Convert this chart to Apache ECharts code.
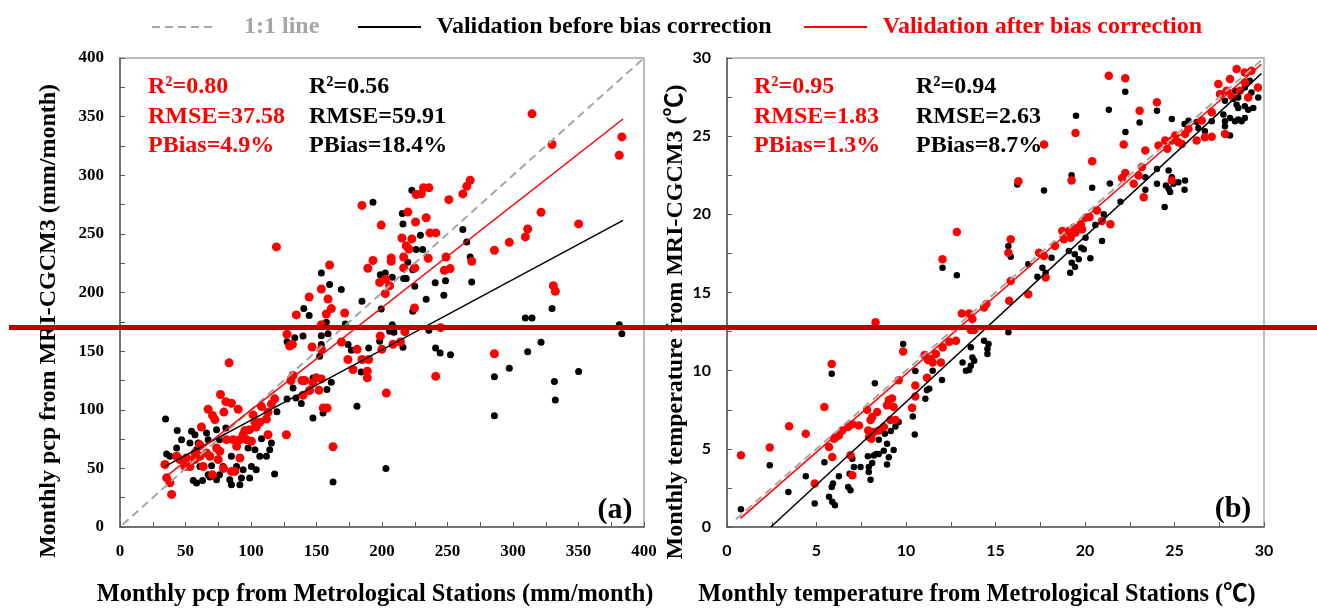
<!DOCTYPE html>
<html>
<head>
<meta charset="utf-8">
<script src="https://cdn.jsdelivr.net/npm/echarts/dist/echarts.min.js"></script>
<style>
  html, body { margin: 0; padding: 0; background: #ffffff; }
  #chart { width: 1317px; height: 610px; }
</style>
</head>
<body>
<div id="chart"></div>
<script>
// ---------- (a) monthly precipitation, mm/month: [station, MRI-CGCM3] ----------
const pcpBefore = [
  [34.8,92.1],[43.7,82.4],[35.6,62.3],[38.1,60.3],[43.2,67.4],[47,74.5],[54.6,81.6],[57.2,78.7],[53.4,71.6],[59.7,71.6],
  [66.1,80.1],[73.7,83],[80.8,84.4],[67.3,74.5],[58.4,65.9],[55.9,39.7],[58.4,37.5],[63,39.7],[68.6,42.6],[73.7,40.3],
  [83.8,40.3],[85.1,36.1],[91.5,36.1],[92.7,41.7],[99,41.7],[94,48.8],[100.3,51.6],[104,48.8],[106.7,60.3],[111.8,60.3],
  [114.3,65.9],[115.6,71.6],[108,75.3],[118,45.1],[97.8,67.4],[103,65.9],[76,74.5],[85,60.3],[78.7,51.6],[89,51.6],
  [76,44.5],[69.9,52.2],[61,51.6],[67.3,44.5],[162.6,38.3],[203,50],
  [222.8,287.2],[193.1,277],[215.5,267.3],[216,258.5],[229.3,248.8],[226,236.6],[231,236.6],[219.7,225.8],[223.5,219.5],
  [216.5,211.9],[218.5,211.9],[225,205.3],[207.8,212.9],[198.7,215.2],[202.5,216.6],[153.7,216.6],[160,206.8],[168.9,202.5],
  [184.7,192.6],[199.4,186],[140.3,186.3],[144.4,180.3],[157.5,174.6],[172,173.2],[207.8,172.6],[205.8,166.9],[209.1,166.1],
  [153.7,163.2],[158.8,164.9],[139.7,162.9],[133.4,161.5],[127.5,158.1],[153.7,155.6],[152.4,145.6],[174.1,155.6],[176.6,150.7],
  [189.8,152.7],[198.2,158.4],[216,153.3],[235.8,167.8],[240.9,152.7],[233.7,194.2],[240.6,208.4],[223.5,184.1],[184.1,132.2],
  [147.3,127.1],[161.3,123.4],[132.1,118.6],[158,117.2],[127.5,109.2],[134.3,110],[138.4,105.3],[119.8,98.2],[180.9,103],
  [147.3,93],[155,97.2],
  [261.7,253.7],[264.7,243.1],[267.3,230.3],[268.5,209],[248.5,210.1],[247.2,197.6],[309.4,178.3],[314.5,178.3],[329.8,186.3],
  [321.4,157.5],[381.1,172.6],[383.1,164.9],[244.4,148.3],[252.3,146.9],[311.2,149.4],[297.2,135.5],[285.8,128.1],[350.1,132.7],
  [331.6,124.2],[332.3,108.3],[285.8,94.9]
];
const pcpAfter = [
  [83.3,140],[76.7,113],[80.8,106.9],[85,105.5],[90.2,100.4],[79.3,98],[67.3,100.4],[70.6,95.2],[72.4,91.6],[62.2,85.3],
  [39.4,27.8],[38.1,37.7],[35.6,41.9],[34.3,53.3],[43.2,60.3],[45.7,57.5],[50.8,58.8],[49.5,51.6],[53.4,51.6],[57.2,57.5],
  [61,60.3],[63.5,51.6],[66,63.2],[68.6,60.3],[73.7,67.4],[76.2,64.6],[75,57.5],[79,50],[85.1,47.4],[87.6,47.4],
  [70.6,44.5],[61,70.1],[57.2,63.2],[81.3,74.5],[86.4,74.5],[89,68.8],[91.5,74.5],[94,78.7],[96.5,74.5],[100.3,73.1],
  [99,83],[95.3,82.2],[103,89.3],[104,85.3],[106.7,89.3],[111.8,92.1],[113,78.7],[127,78.7],[162.6,68.4],[91.5,58.8],
  [113,98],[115.6,105],
  [119.4,238.9],[184.7,274.3],[199.4,257.5],[219.7,268.6],[225.6,260.1],[233.7,263.8],[226.1,283.6],[230,284.2],[231.7,289.3],
  [235.8,289.3],[215.2,246.5],[222.8,245.7],[218.5,239.9],[220.5,237.1],[236.6,250.8],[241.1,250.8],[216.5,230.3],[207,229.5],
  [207,226.6],[216.5,221],[225,221],[235.3,229.2],[193.1,227.3],[189.2,220.7],[160,223.5],[198.2,208.6],[202.8,211.4],
  [205.8,205.8],[202.5,199],[153.7,203],[144.4,196.2],[158.8,194.5],[161.3,186.3],[157.5,181.7],[171.5,182.5],[134.6,180.9],
  [153.7,172.6],[127.5,164.4],[129.5,154.4],[131.6,155.8],[146.6,153.5],[153.7,151.5],[169.1,157.8],[198.7,162.9],[217.4,166.6],
  [208.4,155.8],[214.1,157.8],[199.9,151.5],[181,151.5],[174,142.9],[184.7,142.9],[189.8,142.9],[177.9,134.3],[188.8,132.9],
  [188.8,127.2],[132.1,129.2],[130.5,124.9],[138.9,124.9],[141,124.9],[149.9,127.2],[153.7,126.3],[147.3,122.9],[144.7,116.4],
  [151.9,116.7],[139.7,112.4],[203.3,114.3],[241,128.5],[224.8,186.8],[155.1,101.5],[158.1,101.5],[118.1,109.3],[108,102.7],
  [101.6,95.6],
  [314.5,352.4],[329.8,326.2],[383.1,332.7],[381.1,317.1],[251,279.2],[261.7,284.1],[264.7,290.6],[267.3,295.7],[321.4,268.4],
  [350.1,258.5],[311.2,254.2],[309.4,247.4],[297.2,242.8],[285.8,236],[268.5,226.6],[248.9,230.3],[247.6,218.9],[252,220.4],
  [330.8,205.8],[332.3,201],[285.8,147.8],[244.8,170]
];
// fitted lines and the 1:1 reference, as end points
const pcpFitBefore = [[34, 51.5], [384, 261.5]];
const pcpFitAfter = [[35, 43], [384, 348]];
const pcpOneToOne = [[2, 2], [400, 400]];

// ---------- (b) monthly temperature, degC: [station, MRI-CGCM3] ----------
const tempBefore = [
  [0.78,1.14],[2.39,3.95],[3.43,2.24],[4.4,3.24],[4.9,1.5],[5.44,4.14],[5.7,1.93],[5.85,2.56],[5.92,2.78],[5.88,1.61],
  [6.03,1.39],[6.25,3.24],[5.85,9.8],[6.77,2.56],[6.9,2.35],[6.85,3.41],[7.09,3.84],[7.46,3.84],[7.0,4.37],[7.87,4.52],
  [7.92,3.52],[8.02,3.03],[7.92,3.84],[8.11,4.1],[8.2,4.57],[8.34,4.67],[8.48,4.67],[8.76,4.88],[9.04,4.46],[9.31,4.93],
  [8.94,3.99],[8.94,5.33],[8.48,5.58],[8.82,5.97],[9.15,6.14],[9.41,6.43],[9.59,6.71],[8.26,9.2],[9.84,11.7],[10.38,7.07],
  [10.49,5.92],[10.52,9.98],[11.08,8.2],[11.17,8.77],
  [19.25,22.5],[17.71,21.53],[16.22,21.91],[20.4,21.7],[21.39,21.97],[21.98,20.8],[22.26,25.27],[12.04,16.59],[12.84,16.1],
  [15.72,17.97],[15.85,17.29],[16.83,16.8],[17.34,16.0],[17.62,16.59],[17.8,16.27],[18.13,17.23],[19.1,17.65],[19.43,17.44],
  [19.65,17.12],[19.26,16.91],[19.17,16.27],[19.44,16.63],[19.8,17.87],[19.93,17.76],[20.3,17.19],[20.03,18.51],[20.95,18.3],
  [20.58,19.32],[21.05,20.0],[15.72,12.45],[14.61,11.7],[14.36,11.92],[14.55,11.39],[14.55,11.06],[13.62,11.49],[13.71,10.85],
  [13.81,10.64],[13.62,10.32],[13.35,10.0],[13.53,10.05],[13.16,10.53],[11.49,10.0],[12.01,9.4],[11.3,8.84],[19.5,26.3],
  [22.25,27.84],[21.33,26.69],[23.05,25.88],[24.02,26.63],[23.37,21.57],[24.45,20.47],[24.02,21.95],[24.52,21.85],[24.67,21.64],
  [24.76,21.43],[24.94,21.95],[25.22,22.05],[24.85,22.37],[25.56,21.57],[25.59,22.16],[24.67,22.8],[24.02,22.9],[23.37,22.37],
  [24.85,26.1],[25.56,25.78],[25.78,25.99],[26.24,25.9],[26.7,25.31],[27.08,25.95],[26.33,25.53],[27.73,26.38],[27.82,25.95],
  [27.82,25.63],[28.1,26.16],[28.38,25.95],[28.56,26.06],[28.75,25.95],[28.93,26.16],[28.47,27.01],[28.56,26.8],[28.93,26.91],
  [29.12,26.69],[29.4,26.8],[29.68,27.48],[29.3,27.8],[28.56,27.48],[28.29,27.38],[27.82,27.27],[28.38,27.91],[28.1,25.04],
  [28.93,28.12],[29.21,28.55]
];
const tempAfter = [
  [0.78,4.59],[2.39,5.08],[3.47,6.44],[4.4,5.97],[4.9,2.78],[5.44,7.67],[5.85,10.43],[5.7,5.11],[5.88,4.48],[5.98,5.65],
  [6.07,5.75],[6.25,5.86],[6.44,6.18],[6.77,6.4],[7.0,6.57],[7.37,6.5],[6.9,4.59],[7.0,3.31],[7.83,7.5],[8.11,7.04],
  [8.02,6.84],[8.39,7.36],[7.89,6.18],[8.2,6.07],[7.94,5.75],[8.07,5.65],[8.48,6.18],[8.76,6.4],[9.13,6.84],[9.41,6.84],
  [9.04,8.12],[9.22,8.22],[9.31,7.67],[8.94,7.78],[9.59,9.39],[9.84,11.23],[10.34,7.62],[10.52,8.34],[10.52,9.05],[11.04,11.0],
  [11.23,10.69],[11.17,9.54],[8.3,13.09],
  [19.47,25.2],[22.16,24.46],[20.4,23.4],[19.25,22.17],[17.71,24.46],[16.28,22.12],[12.84,18.87],[12.04,17.12],[15.85,18.4],
  [15.72,17.55],[15.85,15.74],[16.83,14.89],[17.8,15.96],[15.76,14.47],[14.49,14.26],[14.36,14.04],[13.12,13.66],[13.53,13.66],
  [13.71,13.3],[13.62,12.6],[13.81,12.6],[12.79,11.91],[12.42,11.85],[12.05,11.49],[11.67,11.06],[11.4,10.75],[11.49,10.53],
  [11.95,10.53],[17.43,17.55],[17.71,17.34],[18.32,17.97],[18.73,18.93],[19.1,18.93],[19.37,19.14],[19.76,19.36],[20.03,19.78],
  [20.25,19.83],[20.67,20.25],[20.95,19.57],[21.42,19.36],[18.82,18.4],[19.2,18.51],[19.47,18.83],[19.84,19.04],[22.07,22.33],
  [22.25,22.65],
  [21.33,28.86],[22.25,28.71],[24.02,27.17],[23.05,26.63],[22.99,22.49],[23.28,21.1],[23.18,23.03],[24.11,24.4],[24.48,24.72],
  [25.04,25.04],[25.22,24.61],[25.59,25.14],[25.78,25.46],[26.24,24.72],[26.7,24.93],[27.08,24.97],[26.52,26.0],[27.08,26.53],
  [27.54,27.7],[27.82,25.14],[27.45,28.33],[27.91,27.91],[28.1,28.65],[28.47,29.29],[28.93,29.07],[29.3,29.18],[29.12,27.48],
  [29.66,28.12],[28.93,28.44],[28.65,27.91],[28.19,27.59],[25.41,24.5],[24.85,24.72],[23.37,24.08],[24.6,24.19],[24.85,22.16],
  [22.72,21.95]
];
const tempFitBefore = [[2.45, 0], [29.85, 29.0]];
const tempFitAfter = [[0.75, 0.55], [29.85, 29.6]];
const tempOneToOne = [[0.5, 0.5], [30, 30]];

// goodness-of-fit statistics shown in each panel
const pcpStatsAfter = ['R\u00B2=0.80', 'RMSE=37.58', 'PBias=4.9%'];
const pcpStatsBefore = ['R\u00B2=0.56', 'RMSE=59.91', 'PBias=18.4%'];
const tempStatsAfter = ['R\u00B2=0.95', 'RMSE=1.83', 'PBias=1.3%'];
const tempStatsBefore = ['R\u00B2=0.94', 'RMSE=2.63', 'PBias=8.7%'];

const legendNames = ['1:1 line', 'Validation before bias correction', 'Validation after bias correction'];
const panelTags = ['(a)', '(b)'];
const axisTitles = {
  pcpX: 'Monthly pcp from Metrological Stations (mm/month)',
  pcpY: 'Monthly pcp from MRI-CGCM3 (mm/month)',
  tempX: 'Monthly temperature from Metrological Stations (\u2103)',
  tempY: 'Monthly temperature from MRI-CGCM3 (\u2103)'
};

// ---------- styling ----------
const SERIF = '"Liberation Serif", "Times New Roman", "Noto Sans CJK SC", serif';
const RED = '#ff0000';
const GREY = '#a6a6a6';
const AXIS = '#595959';

function valueAxis(grid, max, step, labelEvery, labelFont) {
  return {
    gridIndex: grid, type: 'value', min: 0, max: max, interval: step,
    axisLine: { show: true, onZero: false, lineStyle: { color: AXIS, width: 1.5 } },
    axisTick: { show: true, inside: true, length: 5, lineStyle: { color: AXIS, width: 1 } },
    splitLine: { show: false },
    axisLabel: {
      color: '#000', fontWeight: 'bold', fontFamily: labelFont.family, fontSize: labelFont.size,
      margin: labelFont.margin,
      formatter: v => (Math.abs(v / labelEvery - Math.round(v / labelEvery)) < 1e-6 ? String(v) : '')
    }
  };
}

const pcpLabel = { family: SERIF, size: 17, margin: 16 };
const tempLabel = { family: 'Lato, "Open Sans", sans-serif', size: 16, margin: 16 };

function statText(lines, x, color) {
  const ys = [87, 117, 146];
  return lines.map((t, i) => ({
    type: 'text', x: x, y: ys[i], z: 50, silent: true,
    style: { text: t, fill: color, font: 'bold 24px ' + SERIF, textAlign: 'left', textVerticalAlign: 'middle' }
  }));
}

function titleText(text, x, y, vertical) {
  return {
    type: 'text', x: x, y: y, rotation: vertical ? Math.PI / 2 : 0, z: 50, silent: true,
    style: { text: text, fill: '#000', font: 'bold ' + (vertical ? 24 : 24.4) + 'px ' + SERIF,
             textAlign: 'center', textVerticalAlign: 'middle' }
  };
}

// one legend block per entry so each can sit at its own place on the top row
function legendEntry(name, left, color, lead) {
  return {
    top: 10, left: left, itemWidth: 63, itemHeight: 14, selectedMode: false,
    formatter: n => lead + n,
    itemStyle: { color: 'rgba(0,0,0,0)', borderWidth: 0 },
    textStyle: { fontFamily: SERIF, fontWeight: 'bold', fontSize: 24, color: color },
    data: [{ name: name }]
  };
}

function scatter(name, x, y, data, color, size) {
  return {
    type: 'scatter', name: name, xAxisIndex: x, yAxisIndex: y, data: data,
    symbol: 'circle', symbolSize: size, itemStyle: { color: color, opacity: 1 },
    silent: true, z: 2
  };
}

function fitLine(name, x, y, data, color, width, dash) {
  return {
    type: 'line', name: name, xAxisIndex: x, yAxisIndex: y, data: data,
    symbol: 'none', showSymbol: false, color: color, clip: true,
    lineStyle: { color: color, width: width, type: dash || 'solid' },
    silent: true, z: 4
  };
}

const chart = echarts.init(document.getElementById('chart'), null, { renderer: 'canvas' });

chart.setOption({
  animation: false,
  backgroundColor: '#ffffff',
  legend: [
    legendEntry(legendNames[0], 146, GREY, '    '),
    legendEntry(legendNames[1], 352, '#000', ' \u2009'),
    legendEntry(legendNames[2], 798, RED, ' \u2009')
  ],
  grid: [
    { left: 120, top: 58, width: 524, height: 469, show: true, borderColor: GREY, borderWidth: 1.5, backgroundColor: '#fff' },
    { left: 727, top: 58, width: 537, height: 469, show: true, borderColor: GREY, borderWidth: 1.5, backgroundColor: '#fff' }
  ],
  xAxis: [
    valueAxis(0, 400, 25, 50, pcpLabel),
    valueAxis(1, 30, 2.5, 5, tempLabel)
  ],
  yAxis: [
    valueAxis(0, 400, 25, 50, pcpLabel),
    valueAxis(1, 30, 2.5, 5, tempLabel)
  ],
  series: [
    scatter('pcp before', 0, 0, pcpBefore, '#000', 7),
    scatter('pcp after', 0, 0, pcpAfter, RED, 9),
    fitLine(legendNames[0], 0, 0, pcpOneToOne, GREY, 2, [8, 5]),
    fitLine(legendNames[1], 0, 0, pcpFitBefore, '#000', 1.5),
    fitLine(legendNames[2], 0, 0, pcpFitAfter, RED, 1.5),
    scatter('temp before', 1, 1, tempBefore, '#000', 6.5),
    scatter('temp after', 1, 1, tempAfter, RED, 8.5),
    fitLine(legendNames[0], 1, 1, tempOneToOne, GREY, 2, [8, 5]),
    fitLine(legendNames[1], 1, 1, tempFitBefore, '#000', 1.5),
    fitLine(legendNames[2], 1, 1, tempFitAfter, RED, 1.5)
  ],
  graphic: [
    ...statText(pcpStatsAfter, 148, RED),
    ...statText(pcpStatsBefore, 309, '#000'),
    ...statText(tempStatsAfter, 754, RED),
    ...statText(tempStatsBefore, 916, '#000'),
    titleText(axisTitles.pcpX, 375, 595, false),
    titleText(axisTitles.tempX, 977, 595, false),
    titleText(axisTitles.pcpY, 49, 321, true),
    titleText(axisTitles.tempY, 676, 322, true),
    { type: 'text', x: 615, y: 510, z: 50, silent: true,
      style: { text: panelTags[0], fill: '#000', font: 'bold 30px ' + SERIF, textAlign: 'center', textVerticalAlign: 'middle' } },
    { type: 'text', x: 1233, y: 509, z: 50, silent: true,
      style: { text: panelTags[1], fill: '#000', font: 'bold 30px ' + SERIF, textAlign: 'center', textVerticalAlign: 'middle' } },
    // dark red horizontal rule across the figure
    { type: 'line', z: 100, silent: true,
      shape: { x1: 9, y1: 327.5, x2: 1317, y2: 327.5 },
      style: { stroke: '#bf0000', lineWidth: 5 } }
  ]
});
</script>
</body>
</html>
